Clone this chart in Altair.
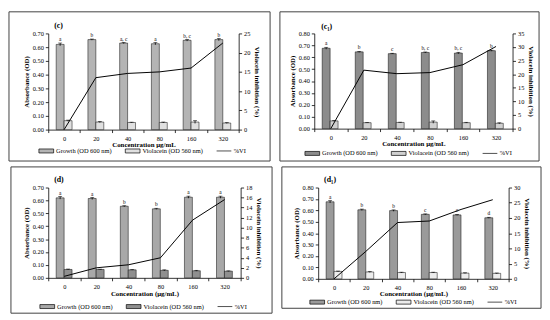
import altair as alt
import pandas as pd

FONT = "Liberation Serif"
conc = ["0", "20", "40", "80", "160", "320"]
SER = ["Growth (OD 600 nm)", "Violacein (OD 560 nm)", "%VI"]

# ---- panel (c)
c_growth = [0.620, 0.655, 0.630, 0.625, 0.650, 0.655]
c_gerr = [0.010, 0.004, 0.004, 0.008, 0.006, 0.008]
c_viol = [0.065, 0.055, 0.052, 0.052, 0.055, 0.048]
c_verr = [0.004, 0.004, 0.002, 0.003, 0.010, 0.003]
c_letters = ["a", "b", "a, c", "a", "b, c", "b"]
c_vi = [0.0, 13.5, 14.6, 15.0, 16.0, 22.5]
c_yticks = [0.0, 0.1, 0.2, 0.3, 0.4, 0.5, 0.6, 0.7]
c_y2ticks = [0, 5, 10, 15, 20, 25]

# ---- panel (c1)
c1_growth = [0.675, 0.645, 0.630, 0.640, 0.635, 0.655]
c1_gerr = [0.008, 0.004, 0.003, 0.004, 0.006, 0.004]
c1_viol = [0.065, 0.050, 0.052, 0.055, 0.050, 0.045]
c1_verr = [0.004, 0.002, 0.002, 0.010, 0.003, 0.004]
c1_letters = ["a", "b", "c", "b, c", "b, c", "b"]
c1_vi = [0.0, 21.5, 20.2, 20.6, 23.5, 30.2]
c1_yticks = [0.0, 0.1, 0.2, 0.3, 0.4, 0.5, 0.6, 0.7, 0.8]
c1_y2ticks = [0, 5, 10, 15, 20, 25, 30, 35]

# ---- panel (d)
d_growth = [0.620, 0.615, 0.555, 0.535, 0.625, 0.625]
d_gerr = [0.010, 0.008, 0.004, 0.004, 0.008, 0.008]
d_viol = [0.065, 0.065, 0.062, 0.058, 0.055, 0.052]
d_verr = [0.003, 0.002, 0.002, 0.004, 0.003, 0.002]
d_letters = ["a", "a", "b", "b", "a", "a"]
d_vi = [0.3, 2.0, 2.6, 4.0, 11.5, 15.6]
d_yticks = [0.0, 0.1, 0.2, 0.3, 0.4, 0.5, 0.6, 0.7]
d_y2ticks = [0, 2, 4, 6, 8, 10, 12, 14, 16, 18]

# ---- panel (d1)
d1_growth = [0.675, 0.605, 0.598, 0.565, 0.560, 0.535]
d1_gerr = [0.010, 0.006, 0.006, 0.004, 0.004, 0.004]
d1_viol = [0.065, 0.060, 0.055, 0.055, 0.050, 0.048]
d1_verr = [0.003, 0.004, 0.003, 0.003, 0.003, 0.003]
d1_letters = ["a", "b", "b", "c", "c", "d"]
d1_vi = [0.0, 9.0, 18.5, 19.0, 22.8, 26.0]
d1_yticks = [0.0, 0.1, 0.2, 0.3, 0.4, 0.5, 0.6, 0.7, 0.8]
d1_y2ticks = [0, 5, 10, 15, 20, 25, 30]

RECT_PATH = "M-1,-0.27H1V0.27H-1Z"
LINE_PATH = "M-1,0H1"
ONE = pd.DataFrame({"k": [0]})


def edge(x, x2, y, y2, color="#404040"):
    enc = dict(x=alt.value(x), y=alt.value(y))
    if x2 is not None:
        enc["x2"] = alt.value(x2)
    if y2 is not None:
        enc["y2"] = alt.value(y2)
    return alt.Chart(ONE).mark_rule(color=color, strokeWidth=1).encode(**enc)


def panel(label, xtitle, growth, gerr, viol, verr, letters, vi, yticks, y2ticks,
          colors, W, H, L, R, T, B, legx, legy, labx, laby):
    rows = []
    for i, cc in enumerate(conc):
        rows.append(dict(conc=cc, series=SER[0], value=growth[i],
                         lo=growth[i] - gerr[i], hi=growth[i] + gerr[i], letter=letters[i]))
        rows.append(dict(conc=cc, series=SER[1], value=viol[i],
                         lo=viol[i] - verr[i], hi=viol[i] + verr[i], letter=""))
    bars_df = pd.DataFrame(rows)
    line_df = pd.DataFrame(dict(conc=conc, vi=vi))

    xenc = alt.X("conc:N", sort=conc,
                 scale=alt.Scale(paddingInner=0, paddingOuter=0),
                 axis=alt.Axis(title=xtitle, labelAngle=0, tickBand="extent",
                               titlePadding=-1, labelPadding=3))
    xoff = alt.XOffset("series:N", sort=SER[:2],
                       scale=alt.Scale(domain=SER[:2], paddingInner=0, paddingOuter=1.0))
    yscale = alt.Scale(domain=[0, yticks[-1]], nice=False, zero=True)
    yaxis = alt.Axis(title="Absorbance (OD)", values=yticks, format=".2f", titlePadding=3)
    leg = alt.Legend(title=None, orient="none", legendX=legx, legendY=legy,
                     direction="horizontal", symbolSize=225, symbolStrokeColor="black",
                     symbolStrokeWidth=0.7, columnPadding=12, labelOffset=2)
    fill = alt.Fill("series:N", scale=alt.Scale(domain=SER, range=colors), legend=leg)
    shape = alt.Shape("series:N", scale=alt.Scale(domain=SER, range=[RECT_PATH, RECT_PATH, LINE_PATH]),
                      legend=leg)

    base = alt.Chart(bars_df)
    frame = [
        edge(-L, W + R, -T, None),
        edge(-L, W + R, H + B, None),
        edge(-L, None, -T, H + B),
        edge(W + R, None, -T, H + B),
    ]
    lab = alt.Chart(ONE).mark_text(font=FONT, fontSize=8, fontWeight="bold", fill="black",
                                   align="left", baseline="alphabetic").encode(
        x=alt.value(labx), y=alt.value(laby), text=alt.value(label))
    bars = base.mark_bar(stroke="black", strokeWidth=0.5).encode(
        x=xenc, xOffset=xoff, y=alt.Y("value:Q", scale=yscale, axis=yaxis), fill=fill)
    errs = base.mark_rule(color="black", strokeWidth=0.8).encode(
        x=xenc, xOffset=xoff, y=alt.Y("lo:Q", scale=yscale, axis=yaxis), y2="hi:Q")
    caps = base.mark_tick(color="black", thickness=0.8, size=4).encode(
        x=xenc, xOffset=xoff, y=alt.Y("hi:Q", scale=yscale, axis=yaxis))
    text = base.transform_filter("datum.letter != ''").mark_text(
        font=FONT, fontSize=5.5, baseline="bottom", dy=-1, fill="black").encode(
        x=xenc, xOffset=xoff, y=alt.Y("hi:Q", scale=yscale, axis=yaxis), text="letter:N")
    legpts = alt.Chart(bars_df).transform_filter("false").mark_point(
        filled=True, size=225, stroke="black", strokeWidth=0.7, opacity=1).encode(
        fill=fill, shape=shape)
    inner = alt.layer(*frame, lab, bars, errs, caps, text, legpts)

    line = alt.Chart(line_df).mark_line(color="black", strokeWidth=1).encode(
        x=xenc,
        y=alt.Y("vi:Q", scale=alt.Scale(domain=[0, y2ticks[-1]], nice=False),
                axis=alt.Axis(orient="right", title="Violacein inhibition (%)",
                              values=y2ticks, format="d", titlePadding=4)))
    return alt.layer(inner, line).resolve_scale(y="independent").properties(width=W, height=H)


pc = panel("(c)", "Concentration μg/mL", c_growth, c_gerr, c_viol, c_verr, c_letters, c_vi,
           c_yticks, c_y2ticks, ["#b4b4b4", "#e0e0e0", "black"],
           W=194, H=98, L=40, R=32, T=22, B=32, legx=-10, legy=111.5, labx=6, laby=-6)
pc1 = panel("(c₁)", "Concentration μg/mL", c1_growth, c1_gerr, c1_viol, c1_verr, c1_letters, c1_vi,
            c1_yticks, c1_y2ticks, ["#8c8c8c", "#d0d0d0", "black"],
            W=202, H=97, L=35, R=27, T=22, B=33, legx=-10, legy=114, labx=7, laby=-5)
pd_ = panel("(d)", "Concentration (μg/mL)", d_growth, d_gerr, d_viol, d_verr, d_letters, d_vi,
            d_yticks, d_y2ticks, ["#a8a8a8", "#8f8f8f", "black"],
            W=196, H=92, L=38, R=32, T=21, B=36, legx=-9, legy=113, labx=6, laby=-6)
pd1 = panel("(d₁)", "Concentration (μg/mL)", d1_growth, d1_gerr, d1_viol, d1_verr, d1_letters, d1_vi,
            d1_yticks, d1_y2ticks, ["#9a9a9a", "#ececec", "black"],
            W=194, H=93, L=37, R=33, T=21, B=30, legx=-9, legy=108.5, labx=6, laby=-6)

res = dict(fill="independent", shape="independent", x="independent", y="independent")
row1 = alt.hconcat(pc, pc1, spacing=8).resolve_scale(**res).resolve_legend(fill="independent", shape="independent")
row2 = alt.hconcat(pd_, pd1, spacing=8).resolve_scale(**res).resolve_legend(fill="independent", shape="independent")
chart = alt.vconcat(row1, row2, spacing=4).resolve_scale(**res).resolve_legend(
    fill="independent", shape="independent").properties(
    padding={"left": 0, "top": 0, "right": 0, "bottom": 0}
).configure_view(stroke=None).configure_axis(
    labelFont=FONT, titleFont=FONT, labelFontSize=6.5, titleFontSize=7,
    titleFontWeight="bold", labelColor="black", titleColor="black",
    domainColor="black", tickColor="black", domainWidth=0.8, tickWidth=0.8,
    tickSize=3, grid=False
).configure_legend(
    labelFont=FONT, labelFontSize=6.5, labelColor="black"
)

chart.save("out.html", embed_options={"renderer": "svg", "actions": False})
